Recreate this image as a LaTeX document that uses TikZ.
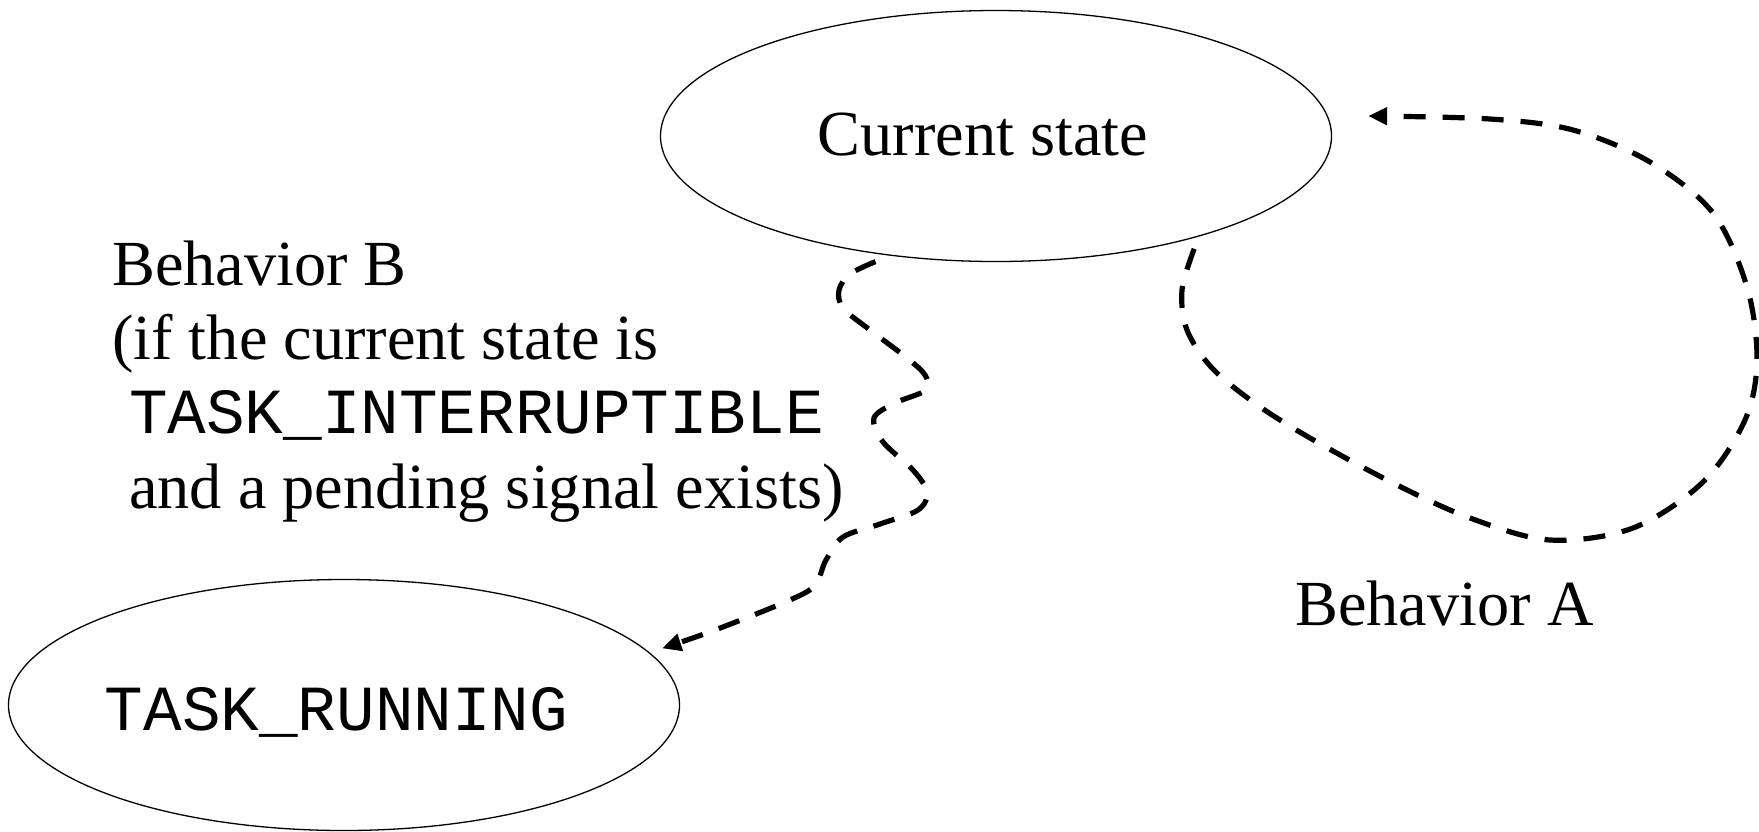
\documentclass[tikz,border=0pt]{standalone}
\usepackage{fontspec}
\setmainfont{Liberation Serif}
\setmonofont{Liberation Mono}
\usetikzlibrary{shapes.geometric,arrows.meta,calc}
\begin{document}
\begin{tikzpicture}[x=1pt,y=-1pt,
  statebox/.style={draw, ellipse, line width=1.3pt, inner sep=0pt,
    minimum width=671pt, minimum height=251pt,
    font=\fontsize{64.3}{74.3}\selectfont},
  labeltext/.style={inner sep=0pt, align=left,
    font=\fontsize{64.3}{74.3}\selectfont},
  dashline/.style={line width=5.2pt, dash pattern=on 22pt off 17pt,
    -{Triangle[length=19pt,width=17pt]}}]
\useasboundingbox (0,0) rectangle (1759,831);
\node[statebox, text height=44pt, text depth=6pt] (cs) at (996,136) {\kern-26pt Current state};
\node[statebox, text height=56pt, text depth=6pt] (tr) at (344,705) {\kern-15pt\ttfamily TASK\_RUNNING};
\node[labeltext, anchor=base west] (lb) at (112,508) {Behavior B\\(if the current state is\\\hspace*{17pt}\texttt{TASK\_INTERRUPTIBLE}\\\hspace*{17pt}and a pending signal exists)};
\node[labeltext, anchor=base west] (la) at (1295,625) {Behavior A};
\coordinate (a0) at ($(cs.-30)+(15,7)$);
\coordinate (a1) at ($(cs.east)+(36,-20)$);
\coordinate (b0) at ($(cs.-134)+(-6,7)$);
\coordinate (b1) at ($(tr.10)+(14,-3)$);
\draw[dashline] plot[smooth, tension=0.55] coordinates {(a0) (1182,290) (1187,330) (1212,368) (1256,404) (1310,438) (1393,483) (1470,518) (1550,540) (1633,528) (1703,482) (1745,420) (1757,360) (1747,287) (1713,213) (1650,162) (1573,130) (1490,119) (a1)};
\draw[dashline] plot[smooth, tension=0.55] coordinates {(b0) (850,274) (839,290) (843,308) (870,330) (907,358) (925,375) (926,390) (895,403) (874,418) (883,442) (913,470) (927,492) (918,510) (880,524) (843,537) (826,560) (815,585) (790,600) (715,630) (b1)};
\end{tikzpicture}
\end{document}
